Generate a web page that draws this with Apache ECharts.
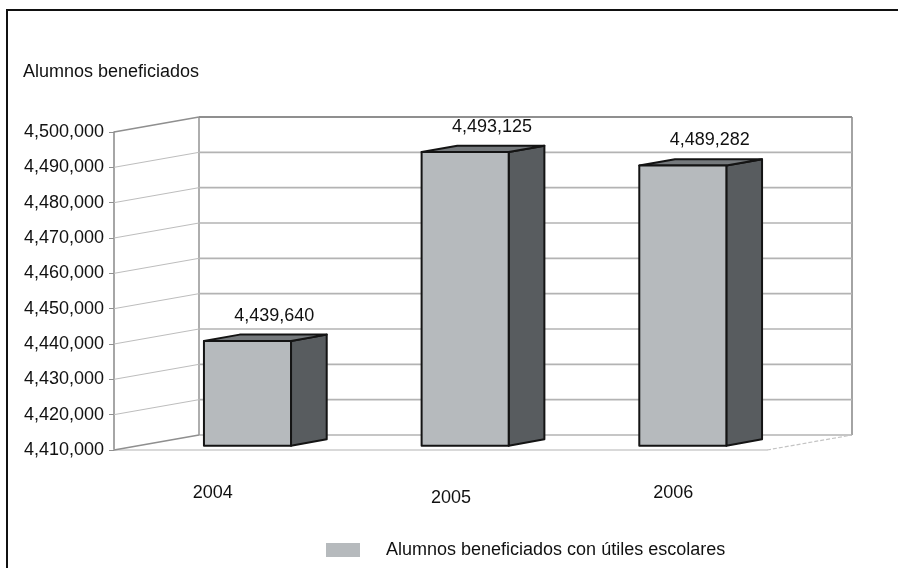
<!DOCTYPE html>
<html>
<head>
<meta charset="utf-8">
<title>Alumnos beneficiados con útiles escolares</title>
<script src="https://cdn.jsdelivr.net/npm/echarts@6/dist/echarts.min.js"></script>
<style>
  html, body { margin: 0; padding: 0; background: #ffffff; }
  #chart { width: 898px; height: 568px; }
</style>
</head>
<body>
<div id="chart"></div>
<script>
// ---- data ----
const years = ['2004', '2005', '2006'];
const students = [4439640, 4493125, 4489282];
const yTicks = [4410000, 4420000, 4430000, 4440000, 4450000, 4460000, 4470000, 4480000, 4490000, 4500000];
const seriesName = 'Alumnos beneficiados con útiles escolares';
const axisTitle = 'Alumnos beneficiados';

// ---- scale & look ----
const Y_MIN = yTicks[0];
const Y_MAX = yTicks[yTicks.length - 1];
const Y_STEP = yTicks[1] - yTicks[0];
const DX = 85, DY = -15;          // depth of the 3D box (pixels)
const F0 = 0.29, F1 = 0.71;       // front/back depth of each bar inside the box
const FONT = '"Liberation Sans", Arial, Helvetica, sans-serif';
const TEXT = '#111111';
const FRONT = '#b6babd', SIDE = '#585c5f', TOP = '#75797c';
const CAT_PAD = [[0, 20, 0, 0], [5, 0, 0, 21], [0, 0, 0, 30]];

const fmt = v => String(Math.round(v)).replace(/\B(?=(\d{3})+(?!\d))/g, ',');

const chart = echarts.init(document.getElementById('chart'), null, { renderer: 'canvas' });

// walls and gridlines of the box, one item per tick
function renderWalls(params, api) {
  const v = api.value(1);
  const bw = api.size([1, 0])[0];
  const pL = api.coord([0, v]);
  const pR = api.coord([years.length - 1, v]);
  const xL = pL[0] - bw / 2;
  const xR = pR[0] + bw / 2;
  const y = pL[1];
  const edge = (v === Y_MAX || v === Y_MIN);
  const children = [
    { type: 'line', shape: { x1: xL + DX, y1: y + DY, x2: xR + DX, y2: y + DY },
      style: { stroke: v === Y_MAX ? '#8f8f8f' : '#b3b3b3', lineWidth: v === Y_MAX ? 2 : 1.6 } },
    { type: 'line', shape: { x1: xL, y1: y, x2: xL + DX, y2: y + DY },
      style: { stroke: edge ? '#8f8f8f' : '#bdbdbd', lineWidth: edge ? 1.6 : 1 } }
  ];
  if (params.dataIndex === 0) {
    const yTop = api.coord([0, Y_MAX])[1];
    children.push(
      { type: 'line', shape: { x1: xL + DX, y1: yTop + DY, x2: xL + DX, y2: y + DY },
        style: { stroke: '#9a9a9a', lineWidth: 1.6 } },
      { type: 'line', shape: { x1: xR + DX, y1: yTop + DY, x2: xR + DX, y2: y + DY },
        style: { stroke: '#9a9a9a', lineWidth: 1.8 } },
      { type: 'line', shape: { x1: xR, y1: y, x2: xR + DX, y2: y + DY },
        style: { stroke: '#c4c4c4', lineWidth: 1.2, lineDash: [4, 2] } }
    );
  }
  return { type: 'group', children };
}

// one 3D bar with its value label
function renderBar(params, api) {
  const i = api.value(0);
  const v = api.value(1);
  const bw = api.size([1, 0])[0];
  const w = bw * 0.4;
  const top = api.coord([i, v]);
  const base = api.coord([i, Y_MIN]);
  const x0 = top[0] - w / 2 + F0 * DX;
  const x1 = x0 + w;
  const yt = top[1] + F0 * DY;
  const yb = base[1] + F0 * DY;
  const ddx = (F1 - F0) * DX;
  const ddy = (F1 - F0) * DY;
  const edge = { stroke: '#141414', lineWidth: 2, lineJoin: 'round' };
  return {
    type: 'group',
    children: [
      { type: 'polygon', shape: { points: [[x1, yt], [x1 + ddx, yt + ddy], [x1 + ddx, yb + ddy], [x1, yb]] },
        style: Object.assign({ fill: SIDE }, edge) },
      { type: 'polygon', shape: { points: [[x0, yt], [x1, yt], [x1 + ddx, yt + ddy], [x0 + ddx, yt + ddy]] },
        style: Object.assign({ fill: TOP }, edge) },
      { type: 'rect', shape: { x: x0, y: yt, width: w, height: yb - yt },
        style: Object.assign({ fill: FRONT }, edge) },
      { type: 'text', x: (x0 + x1 + ddx) / 2 + 9, y: yt + ddy - 19,
        style: { text: fmt(v), fill: TEXT, font: '18px ' + FONT, align: 'center', verticalAlign: 'middle' } }
    ]
  };
}

const rich = {};
CAT_PAD.forEach((p, k) => { rich['c' + k] = { padding: p, fontSize: 18, fontFamily: FONT, color: TEXT }; });

chart.setOption({
  animation: false,
  backgroundColor: '#ffffff',
  textStyle: { fontFamily: FONT },
  title: {
    text: axisTitle, left: 23, top: 63, padding: 0,
    textStyle: { fontSize: 18, fontWeight: 'normal', color: TEXT, fontFamily: FONT }
  },
  legend: {
    data: [{ name: seriesName, icon: 'rect', itemStyle: { color: FRONT } }],
    left: 326, top: 541, padding: 0,
    itemWidth: 34, itemHeight: 14,
    selectedMode: false,
    textStyle: { fontSize: 18, color: TEXT, fontFamily: FONT, padding: [0, 0, 0, 21] }
  },
  grid: { left: 114, top: 132, width: 653, height: 318 },
  xAxis: {
    type: 'category',
    data: years,
    boundaryGap: true,
    axisLine: { show: true, lineStyle: { color: '#cdcdcd', width: 1.5 } },
    axisTick: { show: false },
    axisLabel: {
      margin: 34,
      formatter: (val, idx) => '{c' + idx + '|' + val + '}',
      rich: rich
    },
    splitLine: { show: false }
  },
  yAxis: {
    type: 'value',
    min: Y_MIN, max: Y_MAX, interval: Y_STEP,
    axisLine: { show: true, lineStyle: { color: '#909090', width: 1.6 } },
    axisTick: { show: true, length: 5, lineStyle: { color: '#909090' } },
    axisLabel: { fontSize: 18, color: TEXT, margin: 10, formatter: fmt, fontFamily: FONT },
    splitLine: { show: false }
  },
  graphic: [
    { type: 'line', shape: { x1: 6, y1: 10, x2: 898, y2: 10 }, style: { stroke: '#111', lineWidth: 2 }, z: 100 },
    { type: 'line', shape: { x1: 7, y1: 9, x2: 7, y2: 568 }, style: { stroke: '#111', lineWidth: 2 }, z: 100 }
  ],
  series: [
    {
      type: 'custom', name: 'walls', z: 1, silent: true,
      renderItem: renderWalls,
      data: yTicks.map(v => [0, v])
    },
    {
      type: 'custom', name: seriesName, z: 3,
      itemStyle: { color: FRONT },
      renderItem: renderBar,
      data: students.map((v, i) => [i, v])
    }
  ]
});
</script>
</body>
</html>
